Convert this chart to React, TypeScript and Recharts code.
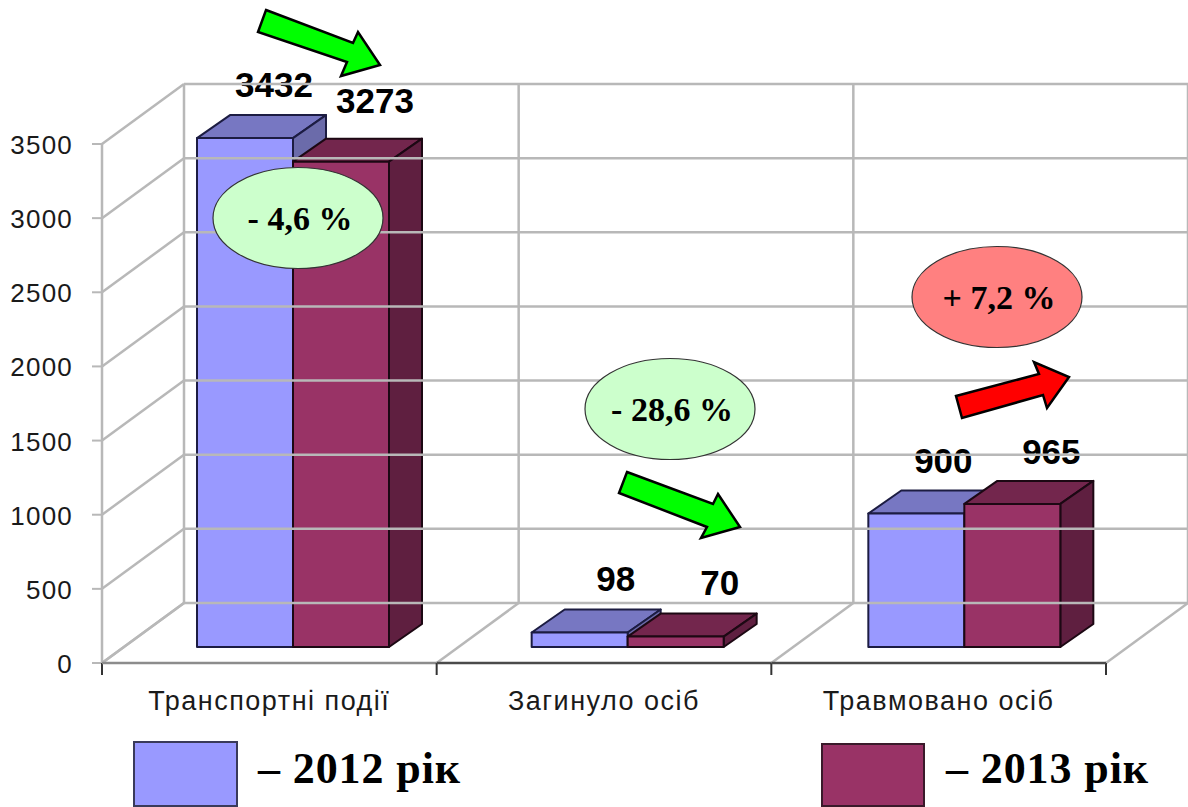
import { BarChart, Bar, XAxis, YAxis, LabelList } from "recharts";

const categories = ["Транспортні події", "Загинуло осіб", "Травмовано осіб"];
const values2012 = [3432, 98, 900];
const values2013 = [3273, 70, 965];
const yTicks = [0, 500, 1000, 1500, 2000, 2500, 3000, 3500];
const seriesNames = ["2012 рік", "2013 рік"];

// value label nudges relative to the bar's front-top centre
const labelDx2012 = [29, 36, 27];
const labelDy2012 = [-41, -41, -41];
const labelDx2013 = [34, 44, 39];
const labelDy2013 = [-49, -42, -40];

const W = 1188;
const H = 807;
const LEFT = 102;
const RIGHT = 82;
const TOP = 144;
const BOTTOM = 144;
const PLOT_W = W - LEFT - RIGHT;
const PLOT_H = H - TOP - BOTTOM;
const WALL_DX = 82;
const WALL_DY = -60;
const BAR_DX = [24, 24, 26];
const BAR_DY = -16;
const DEPTH_X = 33;
const DEPTH_Y = -23;
const GRID = "#b8b8b8";

const floorColors = ["#8c8c8c", "#4a4a4a", "#4a4a4a"];

const blue = { front: "#9999ff", top: "#7777c2", side: "#6b6baa", line: "#1c1c42" };
const plum = { front: "#993366", top: "#73264d", side: "#5f1f40", line: "#1c0813" };

// eslint-disable-next-line @typescript-eslint/no-explicit-any
function YTick({ y, payload }: any) {
  return (
    <g>
      <line x1={LEFT} y1={y} x2={LEFT + WALL_DX} y2={y + WALL_DY} stroke={GRID} strokeWidth={2.5} />
      <line x1={LEFT + WALL_DX} y1={y + WALL_DY} x2={W} y2={y + WALL_DY} stroke={GRID} strokeWidth={2.5} />
      <line x1={LEFT - 10} y1={y} x2={LEFT} y2={y} stroke={GRID} strokeWidth={2} />
      <text
        x={73}
        y={y + 10}
        textAnchor="end"
        fontFamily="'Liberation Sans', Arial, sans-serif"
        fontSize={26}
        letterSpacing={1.2}
        fill="#1a1a1a"
      >
        {payload.value}
      </text>
    </g>
  );
}

// eslint-disable-next-line @typescript-eslint/no-explicit-any
function XTick({ x, payload, index }: any) {
  const band = PLOT_W / categories.length;
  const yBase = TOP + PLOT_H;
  const left = x - band / 2;
  const right = x + band / 2;
  const corner = (cx: number) => (
    <g>
      <line x1={cx} y1={yBase} x2={cx + WALL_DX} y2={yBase + WALL_DY} stroke={GRID} strokeWidth={2.5} />
      <line x1={cx + WALL_DX} y1={yBase + WALL_DY} x2={cx + WALL_DX} y2={TOP + WALL_DY} stroke={GRID} strokeWidth={2.5} />
      <line x1={cx} y1={yBase} x2={cx} y2={yBase + 12} stroke="#333333" strokeWidth={2} />
    </g>
  );
  return (
    <g>
      {corner(left)}
      {index === categories.length - 1 && corner(right)}
      <line x1={left} y1={yBase} x2={right} y2={yBase} stroke={floorColors[index]} strokeWidth={2.5} />
      <text
        x={x}
        y={710}
        textAnchor="middle"
        fontFamily="'Liberation Sans', Arial, sans-serif"
        fontSize={27}
        letterSpacing={1.5}
        fill="#1a1a1a"
      >
        {payload.value}
      </text>
    </g>
  );
}

function bar3d(c: typeof blue) {
  // eslint-disable-next-line @typescript-eslint/no-explicit-any
  return function Bar3d({ x, y, width, height, index }: any) {
    const l = x + BAR_DX[index];
    const r = l + width;
    const t = y + BAR_DY;
    const b = t + height;
    return (
      <g stroke={c.line} strokeWidth={2} strokeLinejoin="round">
        <polygon
          points={`${l},${t} ${l + DEPTH_X},${t + DEPTH_Y} ${r + DEPTH_X},${t + DEPTH_Y} ${r},${t}`}
          fill={c.top}
        />
        <polygon
          points={`${r},${t} ${r + DEPTH_X},${t + DEPTH_Y} ${r + DEPTH_X},${b + DEPTH_Y} ${r},${b}`}
          fill={c.side}
        />
        <rect x={l} y={t} width={width} height={height} fill={c.front} />
      </g>
    );
  };
}

function valueLabel(dxs: number[], dys: number[]) {
  // eslint-disable-next-line @typescript-eslint/no-explicit-any
  return function ValueLabel({ x, y, width, value, index }: any) {
    return (
      <text
        x={x + width / 2 + BAR_DX[index] + dxs[index]}
        y={y + BAR_DY + dys[index]}
        textAnchor="middle"
        fontFamily="'Liberation Sans', Arial, sans-serif"
        fontWeight="bold"
        fontSize={35}
        fill="#000000"
        stroke="#ffffff"
        strokeWidth={4}
        paintOrder="stroke"
        strokeLinejoin="round"
      >
        {value}
      </text>
    );
  };
}

const data = categories.map((name, i) => ({
  name,
  y2012: values2012[i],
  y2013: values2013[i],
}));

const serif = "'Liberation Serif', 'Times New Roman', serif";

function Bubble({ cx, cy, fill, text }: { cx: number; cy: number; fill: string; text: string }) {
  return (
    <g>
      <ellipse cx={cx} cy={cy} rx={85} ry={50.5} fill={fill} stroke="#333333" strokeWidth={1.2} />
      <text
        x={cx + 2}
        y={cy + 12}
        textAnchor="middle"
        fontFamily={serif}
        fontWeight="bold"
        fontSize={34}
        fill="#000000"
      >
        {text}
      </text>
    </g>
  );
}

function Overlay() {
  return (
    <svg width={W} height={H} style={{ position: "absolute", left: 0, top: 0, pointerEvents: "none" }}>
      <Bubble cx={298} cy={218} fill="#ccffcc" text="- 4,6 %" />
      <Bubble cx={670} cy={409} fill="#ccffcc" text="- 28,6 %" />
      <Bubble cx={997} cy={297} fill="#ff8080" text="+ 7,2 %" />
      <g stroke="#000000" strokeWidth={2.5} strokeLinejoin="miter">
        <polygon points="266,10 353,43 358,32 380,65 341,76 347,62 258,32" fill="#00ff00" />
        <polygon points="627,472 713,504 718,494 740,527 701,538 707,527 619,493" fill="#00ff00" />
        <polygon points="956,396 1039,374 1034,362 1069,377 1047,408 1043,395 962,418" fill="#ff0000" />
      </g>
      <rect x={134} y={742} width={103} height={64} fill={blue.front} stroke="#3a3a5a" strokeWidth={2} />
      <rect x={822} y={744} width={102} height={62} fill={plum.front} stroke="#3a1a2a" strokeWidth={2} />
      <text x={258} y={783} fontFamily={serif} fontWeight="bold" fontSize={44} letterSpacing={0.9} fill="#000000">
        {"– " + seriesNames[0]}
      </text>
      <text x={946} y={783} fontFamily={serif} fontWeight="bold" fontSize={44} letterSpacing={0.9} fill="#000000">
        {"– " + seriesNames[1]}
      </text>
    </svg>
  );
}

export default function App() {
  return (
    <div style={{ position: "absolute", left: 0, top: 0, width: W, height: H, background: "#ffffff", overflow: "hidden" }}>
      <BarChart
        width={W}
        height={H}
        data={data}
        barSize={96}
        barGap={0}
        margin={{ top: TOP, right: RIGHT, left: 0, bottom: 0 }}
      >
        <YAxis
          type="number"
          domain={[0, 3500]}
          ticks={yTicks}
          width={LEFT}
          interval={0}
          axisLine={{ stroke: GRID, strokeWidth: 2.5 }}
          tickLine={false}
          tick={YTick}
          zIndex={-10}
        />
        <XAxis
          dataKey="name"
          height={BOTTOM}
          interval={0}
          axisLine={false}
          tickLine={false}
          tick={XTick}
          zIndex={-10}
        />
        <Bar dataKey="y2012" name={seriesNames[0]} fill={blue.front} shape={bar3d(blue)} isAnimationActive={false}>
          <LabelList dataKey="y2012" content={valueLabel(labelDx2012, labelDy2012)} />
        </Bar>
        <Bar dataKey="y2013" name={seriesNames[1]} fill={plum.front} shape={bar3d(plum)} isAnimationActive={false}>
          <LabelList dataKey="y2013" content={valueLabel(labelDx2013, labelDy2013)} />
        </Bar>
      </BarChart>
      <Overlay />
    </div>
  );
}
